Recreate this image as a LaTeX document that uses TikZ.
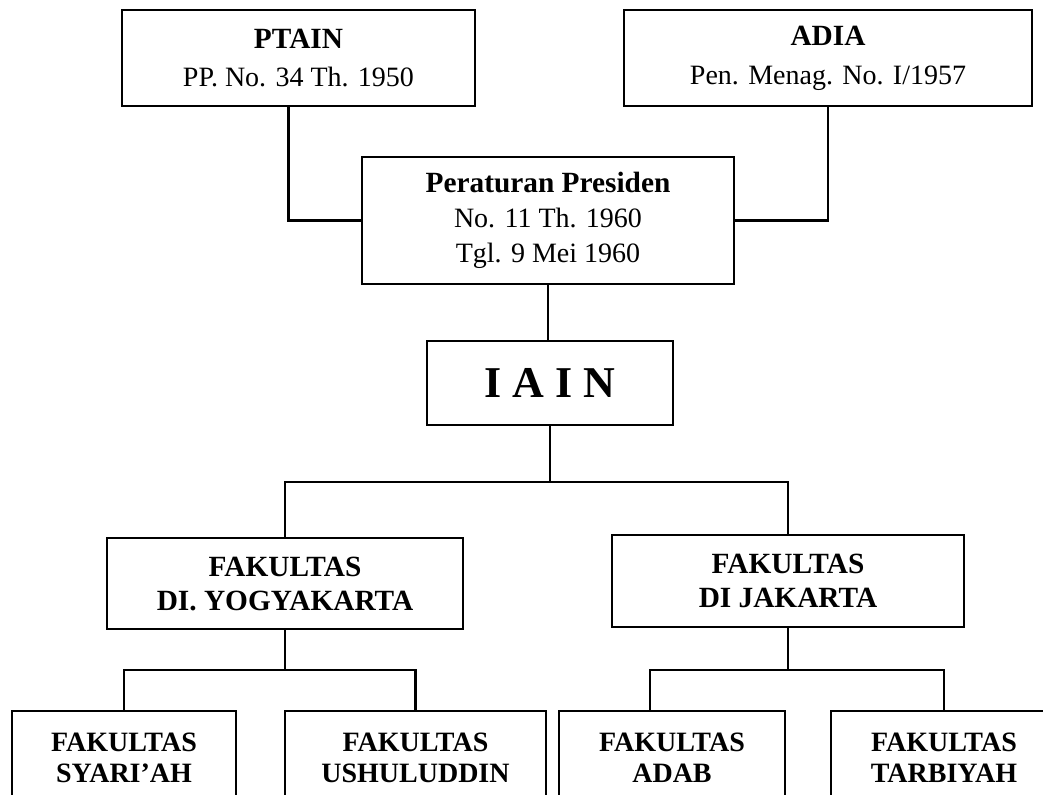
\documentclass[tikz,border=0pt]{standalone}
\usepackage{fontspec}
\setmainfont{Liberation Serif}
\usetikzlibrary{positioning}

\newcommand{\headline}[1]{{\fontsize{22}{26}\selectfont\bfseries #1}}

\begin{document}
\begin{tikzpicture}[
  x=0.75pt, y=-0.75pt,
  box/.style={
    rectangle,
    draw=black,
    line width=2pt,
    fill=white,
    align=center,
    inner sep=0pt,
    font=\fontsize{21}{26}\selectfont
  },
  faculty/.style={box, font=\fontsize{22}{25.5}\selectfont\bfseries},
  branch/.style={box, minimum height=70.5pt, font=\fontsize{21}{23.25}\selectfont\bfseries},
  link/.style={draw=black, line width=1.6pt}
]
  \useasboundingbox (0,0) rectangle (1043,794);

  % sources
  \node[box, minimum width=264.75pt, minimum height=72pt] (ptain) at (298.5,58) {\headline{PTAIN}\\[3pt] PP. No. 34 Th. 1950};
  \node[box, minimum width=306pt, minimum height=72pt] (adia) at (828,58) {\headline{ADIA}\\[3pt] Pen. Menag. No. I/1957};
  \node[box, minimum width=279pt, minimum height=95.25pt] (perpres) at (548,220.5) {\headline{Peraturan Presiden}\\ No. 11 Th. 1960\\ Tgl. 9 Mei 1960};
  \node[box, minimum width=184.5pt, minimum height=63pt, font=\fontsize{33}{40}\selectfont\bfseries] (iain) at (550,383) {I A I N};

  % faculties
  \node[faculty, minimum width=267pt, minimum height=68.25pt] (yogya) at (285,583.5) {FAKULTAS\\ DI. YOGYAKARTA};
  \node[faculty, minimum width=264pt, minimum height=69pt] (jakarta) at (788,581) {FAKULTAS\\ DI JAKARTA};

  \node[branch, minimum width=168pt] (syariah) at (124,758) {FAKULTAS\\ SYARI’AH};
  \node[branch, minimum width=195.75pt] (ushuluddin) at (415.5,758) {FAKULTAS\\ USHULUDDIN};
  \node[branch, minimum width=169.5pt] (adab) at (672,758) {FAKULTAS\\ ADAB};
  \node[branch, minimum width=169.5pt] (tarbiyah) at (944,758) {FAKULTAS\\ TARBIYAH};

  % connectors
  \draw[link] ([xshift=-7.5pt]ptain.south) |- (perpres.west);
  \draw[link] (adia.south) |- (perpres.east);
  \draw[link] (perpres.south) -- (perpres.south |- iain.north);

  \coordinate (split) at (550,482);
  \draw[link] (iain.south) -- (split);
  \draw[link] (yogya.north) |- (split) -| (jakarta.north);

  \coordinate (splityk) at (285,670);
  \draw[link] (yogya.south) -- (splityk);
  \draw[link] (syariah.north) |- (splityk) -| (ushuluddin.north);

  \coordinate (splitjk) at (788,670);
  \draw[link] (jakarta.south) -- (splitjk);
  \draw[link] ([xshift=-16.5pt]adab.north) |- (splitjk) -| (tarbiyah.north);
\end{tikzpicture}
\end{document}
